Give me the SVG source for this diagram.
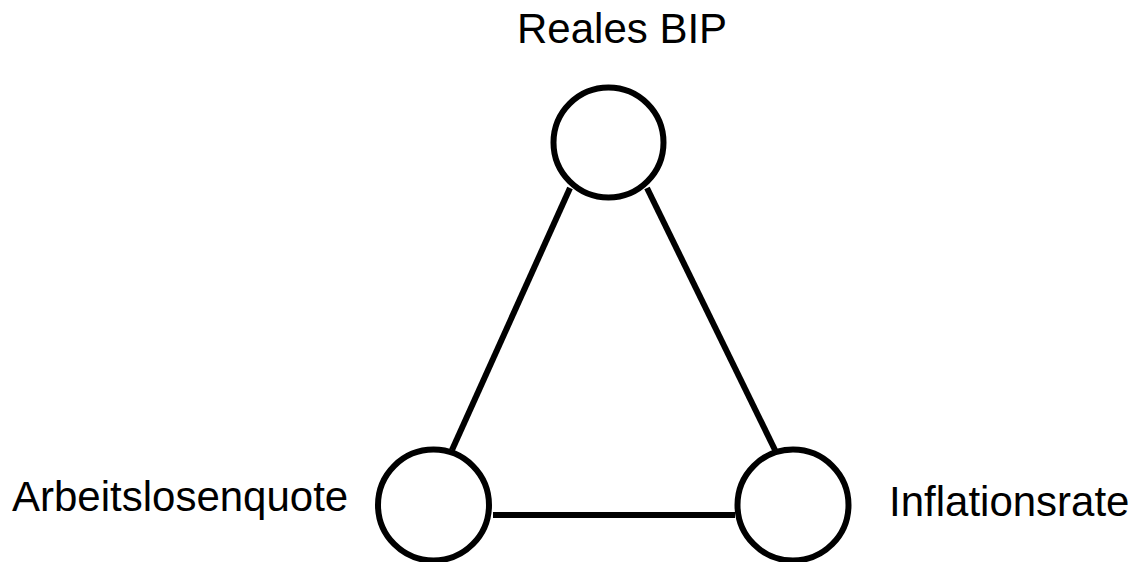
<svg xmlns="http://www.w3.org/2000/svg" width="1138" height="562" viewBox="0 0 1138 562">
<style>
.node{fill:#fff;stroke:#000;stroke-width:6}
.edge{stroke:#000;stroke-width:6;fill:none}
.lbl{font-family:"Liberation Sans",Arial,sans-serif;font-size:42px;fill:#000}
</style>
<rect width="1138" height="562" fill="#fff"/>
<g id="connectors">
<line class="edge" x1="570" y1="188" x2="452" y2="450"/>
<line class="edge" x1="647" y1="188" x2="775" y2="450"/>
<line class="edge" x1="493" y1="515" x2="735" y2="515"/>
</g>
<g id="node-bip">
<circle class="node" cx="608.5" cy="142.5" r="55"/>
<text class="lbl" x="517" y="43">Reales BIP</text>
</g>
<g id="node-arbeitslosenquote">
<circle class="node" cx="433.5" cy="505" r="55.5"/>
<text class="lbl" x="12" y="511">Arbeitslosenquote</text>
</g>
<g id="node-inflationsrate">
<circle class="node" cx="793" cy="505" r="55.5"/>
<text class="lbl" x="889" y="516">Inflationsrate</text>
</g>
</svg>
